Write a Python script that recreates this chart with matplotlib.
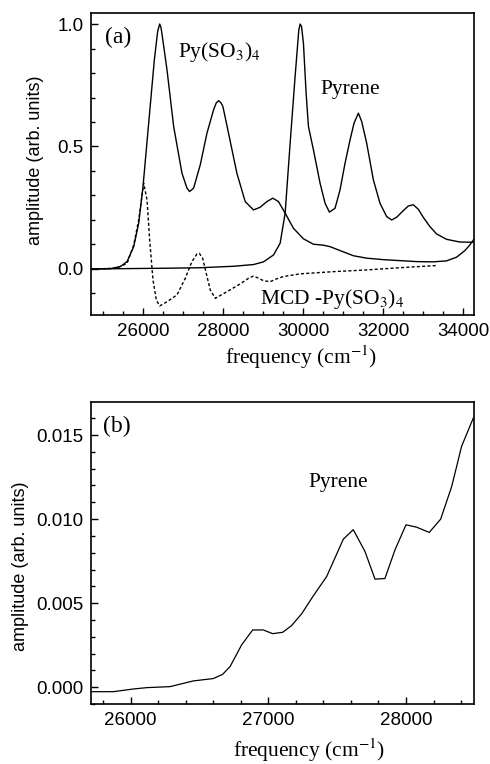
import matplotlib
matplotlib.use("Agg")
import matplotlib.pyplot as plt
from matplotlib.ticker import MultipleLocator

plt.rcParams['mathtext.fontset'] = 'stix'

# ---------------- Panel (a) data ----------------
pys_x = [24703, 25185, 25435, 25601, 25767, 25892, 26000, 26141, 26283, 26366,
         26416, 26450, 26482, 26599, 26765, 26973, 27098, 27164, 27264, 27430, 27597,
         27763, 27830, 27888, 27950, 27996, 28137, 28345, 28553, 28761, 28927, 29094, 29243,
         29385, 29551, 29759, 30008, 30258, 30507, 30674, 30923, 31256, 31588,
         32004, 32420, 32836, 33252, 33584, 33834, 34042, 34166, 34266]
pys_y = [0.000, 0.001, 0.010, 0.030, 0.091, 0.187, 0.337, 0.595, 0.854, 0.970,
         1.000, 0.985, 0.950, 0.813, 0.582, 0.391, 0.330, 0.316, 0.330, 0.425, 0.554,
         0.650, 0.678, 0.687, 0.678, 0.663, 0.554, 0.391, 0.275, 0.241, 0.252, 0.275, 0.289,
         0.275, 0.228, 0.166, 0.123, 0.101, 0.097, 0.091, 0.075, 0.054, 0.044,
         0.038, 0.034, 0.030, 0.029, 0.033, 0.048, 0.075, 0.098, 0.121]

pyr_x = [24703, 26599, 27430, 28262, 28761, 29010, 29260, 29426, 29551, 29676,
         29800, 29892, 29925, 29960, 30008, 30075, 30133, 30258, 30424, 30549,
         30657, 30798, 30923, 31048, 31173, 31272, 31381, 31464, 31588, 31755,
         31921, 32087, 32212, 32337, 32503, 32628, 32753, 32877, 33002, 33168,
         33335, 33584, 33917, 34266]
pyr_y = [0.000, 0.003, 0.005, 0.011, 0.018, 0.029, 0.057, 0.105, 0.228, 0.514,
         0.786, 0.975, 1.000, 0.990, 0.922, 0.718, 0.582, 0.486, 0.350, 0.268,
         0.232, 0.248, 0.323, 0.432, 0.527, 0.595, 0.636, 0.602, 0.514, 0.364,
         0.268, 0.214, 0.200, 0.211, 0.238, 0.257, 0.262, 0.244, 0.211, 0.173,
         0.143, 0.121, 0.110, 0.109]

mcd_x = [24852, 25351, 25601, 25767, 25892, 26017, 26100, 26166, 26249, 26333,
         26416, 26599, 26848, 27056, 27222, 27347, 27405, 27489, 27580, 27680,
         27805, 28096, 28429, 28636, 28761, 28886, 29010, 29177, 29343, 29509,
         29925, 30757, 31588, 32420, 33335]
mcd_y = [0.000, 0.004, 0.023, 0.098, 0.200, 0.350, 0.282, 0.118, -0.045, -0.127,
         -0.151, -0.134, -0.106, -0.038, 0.030, 0.061, 0.064, 0.044, -0.018, -0.086,
         -0.120, -0.093, -0.061, -0.038, -0.029, -0.038, -0.048, -0.052, -0.040, -0.031,
         -0.020, -0.011, -0.004, 0.005, 0.014]

# ---------------- Panel (b) data ----------------
b_x = [25709, 25874, 26019, 26116, 26286, 26455, 26600, 26668, 26722, 26806,
       26886, 26964, 27031, 27104, 27169, 27242, 27327, 27424, 27545, 27617,
       27702, 27775, 27847, 27920, 28000, 28077, 28169, 28252, 28332, 28404, 28489]
b_y = [-0.00026, -0.00026, -0.00010, -0.00002, 0.00004, 0.00038, 0.00052, 0.00077,
       0.00123, 0.00252, 0.00341, 0.00341, 0.00319, 0.00327, 0.00367, 0.00437,
       0.00544, 0.00659, 0.00881, 0.00937, 0.00808, 0.00643, 0.00647, 0.00817,
       0.00966, 0.00952, 0.00921, 0.01000, 0.01194, 0.01433, 0.01601]

a_xticks = [26000, 28000, 30000, 32000, 34000]
a_yticks = [0.0, 0.5, 1.0]
b_xticks = [26000, 27000, 28000]
b_yticks = [0.000, 0.005, 0.010, 0.015]

SANS = 'Liberation Sans'
SERIF = 'Liberation Serif'

fig = plt.figure(figsize=(4.9, 7.64), dpi=100)
W, H = 490, 764
axa = fig.add_axes([91 / W, 1 - 315 / H, 383 / W, 302 / H])
axb = fig.add_axes([91 / W, 1 - 704.3 / H, 383 / W, 302.6 / H])

lw = 1.0
axa.plot(pys_x, pys_y, color='black', lw=lw)
axa.plot(pyr_x, pyr_y, color='black', lw=lw)
axa.plot(mcd_x, mcd_y, color='black', lw=lw, linestyle=(0, (2.2, 1.6)))
axb.plot(b_x, b_y, color='black', lw=0.9)

axa.set_xlim(24700, 34270)
axa.set_ylim(-0.188, 1.045)
axb.set_xlim(25712, 28494)
axb.set_ylim(-0.00101, 0.01698)

axa.set_xticks(a_xticks)
axa.set_xticklabels([str(v) for v in a_xticks])
axa.set_yticks(a_yticks)
axa.set_yticklabels(['%.1f' % v for v in a_yticks])
axa.xaxis.set_minor_locator(MultipleLocator(500))
axa.yaxis.set_minor_locator(MultipleLocator(0.1))

axb.set_xticks(b_xticks)
axb.set_xticklabels([str(v) for v in b_xticks])
axb.set_yticks(b_yticks)
axb.set_yticklabels(['%.3f' % v for v in b_yticks])
axb.xaxis.set_minor_locator(MultipleLocator(200))
axb.yaxis.set_minor_locator(MultipleLocator(0.001))

for ax in (axa, axb):
    for s in ax.spines.values():
        s.set_linewidth(1.2)
    ax.tick_params(which='both', direction='in', top=False, right=False,
                   width=1.0)
    ax.tick_params(which='major', length=5, pad=5.5, labelsize=13.5)
    ax.tick_params(which='minor', length=3)
    for lab in ax.get_xticklabels() + ax.get_yticklabels():
        lab.set_fontfamily(SANS)

# axis labels
for ax, xl, yl in ((axa, (0.548, -0.139), (-0.146, 0.513)),
                   (axb, (0.569, -0.151), (-0.185, 0.457))):
    ax.set_xlabel('frequency (cm$^{-1}$)', family=SERIF, fontsize=15.5)
    ax.xaxis.label.set_va('center')
    ax.xaxis.set_label_coords(*xl)
    ax.set_ylabel('amplitude (arb. units)', family=SANS, fontsize=13)
    ax.yaxis.label.set_va('center')
    ax.yaxis.set_label_coords(*yl)

# annotations panel (a)
axa.text(25060, 0.947, '(a)', family=SERIF, fontsize=17, ha='left', va='center')
axa.text(26880, 0.864, 'Py(SO$_3$)$_4$', family=SERIF, fontsize=15.5,
         ha='left', va='baseline')
axa.text(30421, 0.713, 'Pyrene', family=SERIF, fontsize=15.5,
         ha='left', va='baseline')
axa.text(28925, -0.143, 'MCD -Py(SO$_3$)$_4$', family=SERIF, fontsize=15.5,
         ha='left', va='baseline')

# annotations panel (b)
axb.text(25799, 0.01548, '(b)', family=SERIF, fontsize=17, ha='left', va='center')
axb.text(27295, 0.01193, 'Pyrene', family=SERIF, fontsize=15.5,
         ha='left', va='baseline')

fig.savefig('out.png', dpi=100)
